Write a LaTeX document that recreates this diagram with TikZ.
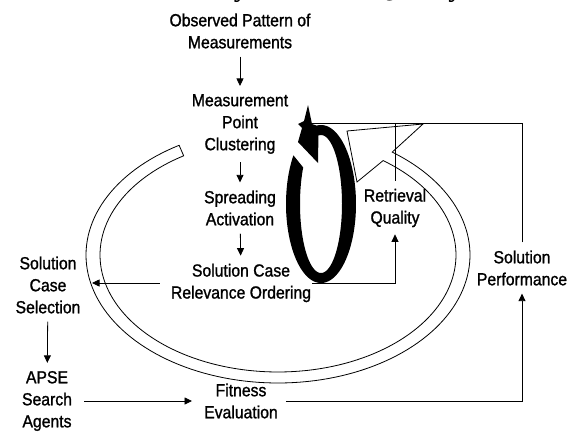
\documentclass[tikz,border=0pt]{standalone}
\usepackage{fontspec}
\setmainfont{Liberation Sans}[FakeStretch=0.9, FakeBold=1.2]
\newfontfamily\titlefont{Liberation Serif}
\usetikzlibrary{arrows.meta}
\begin{document}
\begin{tikzpicture}[x=1pt,y=-1pt,
  lbl/.style={align=center, font=\fontsize{17.5}{22}\selectfont, inner sep=1pt},
  thin/.style={line width=0.8pt},
  conn/.style={thin, -{Triangle[length=7.5pt,width=7pt]}, shorten <=7pt, shorten >=7pt},
  link/.style={thin, shorten <=7pt}]
\useasboundingbox (0,0) rectangle (570,431);

% clipped title
\node[anchor=base west, inner sep=0, font=\titlefont\bfseries\fontsize{28}{30}\selectfont] (title) at (145,-4) {Memory Retrieval Quality};

% hollow circular arrow
\draw[thin, fill=white]
  plot[domain=239:-53.5, samples=140] ({278+192*cos(\x)},{255+128*sin(\x)})
  -- (423,124) -- (347,131) -- (357,182)
  -- plot[domain=-53.8:238, samples=140] ({278+178*cos(\x)},{255+117*sin(\x)})
  -- cycle;

% text nodes
\node[lbl] (obs)  at (240,31)  {Observed Pattern of\\Measurements};
\node[lbl] (mpc)  at (240,124) {Measurement\\Point\\Clustering};
\node[lbl] (spr)  at (240,208) {Spreading\\Activation};
\node[lbl] (rel)  at (241,283) {Solution Case\\Relevance Ordering};
\node[lbl] (sel)  at (48,285)  {Solution\\Case\\Selection};
\node[lbl] (apse) at (47,401)  {APSE\\Search\\Agents};
\node[lbl] (fit)  at (241,401) {Fitness\\Evaluation};
\node[lbl] (ret)  at (395,208) {Retrieval\\Quality};
\node[lbl] (perf) at (522,268) {Solution\\Performance};

\coordinate (bandhit) at (92,283);
\coordinate (tip) at (301,123);

% connectors
\draw[conn] (obs) -- (mpc);
\draw[conn] (mpc) -- (spr);
\draw[conn] (spr) -- (rel);
\draw[thin, -{Triangle[length=7.5pt,width=7pt]}, shorten <=10pt] (rel.west) -- (bandhit);
\draw[conn] (sel) -- (apse);
\draw[thin, -{Triangle[length=7.5pt,width=7pt]}, shorten <=11pt, shorten >=11pt] (apse.east) -- (apse.east -| fit.west);
\draw[conn] (fit.east) -| (perf.south);
\draw[thin, -{Triangle[length=7.5pt,width=7pt]}, shorten >=6pt] (rel.east) -| (ret.south);
\draw[link] (ret.north) -- (ret.north |- tip);
\draw[link] (perf.north) |- (tip);

% thick black circular arrow
\fill[black]
  plot[domain=218:-97, samples=120] ({321+35*cos(\x)},{204+79*sin(\x)})
  -- (312,124) -- (308,105) -- (304,121) -- (298,124) -- (302,128) -- (298,142) -- (318,163)
  -- plot[domain=-97:212, samples=120] ({321+21*cos(\x)},{204+69*sin(\x)})
  -- cycle;
\end{tikzpicture}
\end{document}
